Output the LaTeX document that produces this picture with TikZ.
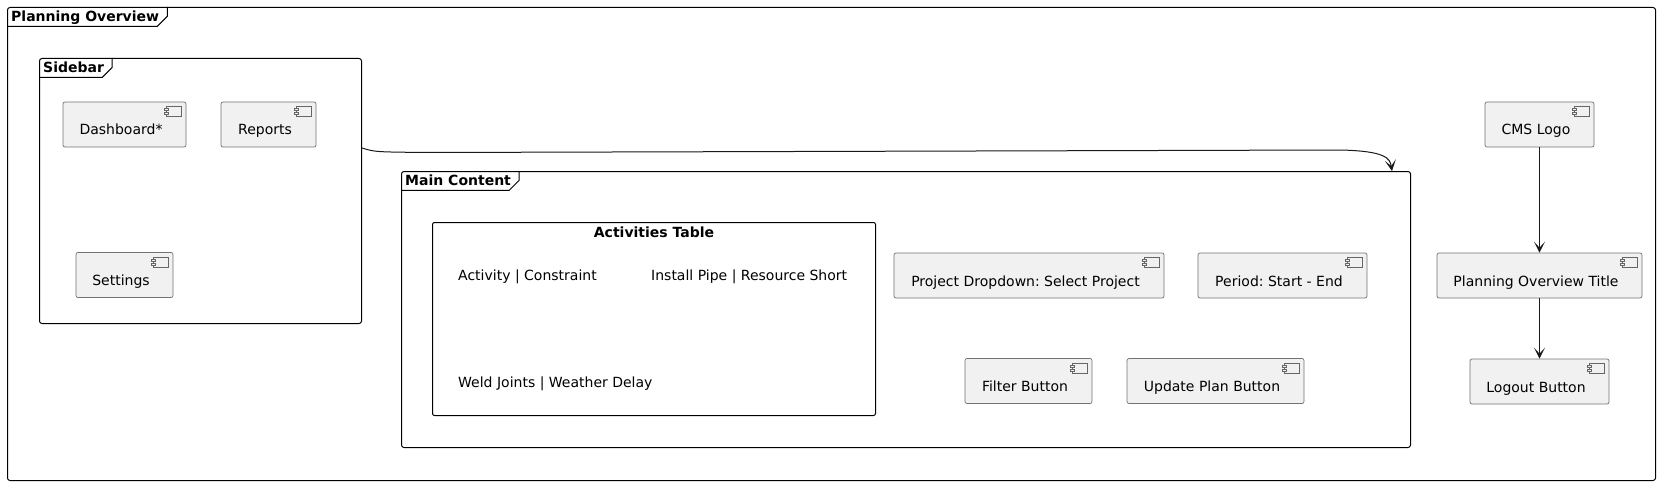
\documentclass[tikz,border=0pt]{standalone}
\usepackage{fontspec}
\setmainfont{DejaVu Sans}
\usetikzlibrary{arrows.meta}
\frenchspacing

\newcommand{\frameTab}[2]{%
  \node [TabLabel] (#1tab) at (#1.north west) {#2};
  \draw [line width=1pt] (#1tab.north east) -- ([yshift=10pt]#1tab.south east) -- ([xshift=-10pt]#1tab.south east) -- (#1tab.south west);
}

\begin{document}
\begin{tikzpicture}[x=1pt, y=-1pt, font=\fontsize{14}{17}\selectfont,
Frame/.style={draw, line width=1pt, rounded corners=2.5pt, inner sep=0pt, anchor=north west},
TabLabel/.style={font=\fontsize{14}{17}\selectfont\bfseries, anchor=north west, inner xsep=4pt, inner ysep=0pt, minimum height=19pt, text height=11pt, text depth=2pt, execute at end node={\hspace*{4pt}}},
Comp/.style={draw=black!55, fill=black!5.5, line width=0.7pt, rounded corners=2pt, minimum height=45pt, inner sep=0pt, text height=22pt, text depth=1pt, execute at end node={\hspace*{7pt}}},
CompIcon/.style={draw=black!60, fill=black!5.5, line width=0.6pt},
RowText/.style={anchor=base west, inner sep=0pt},
Flow/.style={draw=black!90, line width=1pt, -{Stealth[length=11pt, width=11pt, inset=6pt]}}]
\useasboundingbox (0,0) rectangle (1664,484);

% frames
\node [Frame, fill=white, minimum width=1648pt, minimum height=473pt] (overview) at (7,7) {};
\frameTab{overview}{Planning Overview}
\node [Frame, minimum width=322pt, minimum height=265pt] (sidebar) at (39,58) {};
\frameTab{sidebar}{Sidebar}
\node [Frame, minimum width=1009pt, minimum height=276pt] (maincontent) at (401,171) {};
\frameTab{maincontent}{Main Content}

% activities table
\node [Frame, rounded corners=2pt, minimum width=443pt, minimum height=193pt] (acttable) at (432,222) {};
\node [anchor=base, inner sep=0pt, font=\fontsize{14}{17}\selectfont\bfseries] (acttitle) at ([yshift=-15pt]acttable.north) {Activities Table};
\node [RowText] (actheader) at (458,280) {Activity | Constraint};
\node [RowText] (actpipe) at (651,280) {Install Pipe | Resource Short};
\node [RowText] (actweld) at (458,387) {Weld Joints | Weather Delay};

% components
\foreach \name/\cx/\cy/\boxw/\txt in {
  dashboard/124.5/124.5/123/Dashboard*,
  reports/268.5/124.5/95/Reports,
  settings/124.5/275/97/Settings,
  project/1029/275.5/270/Project Dropdown: Select Project,
  period/1282.5/275.5/169/Period: Start - End,
  filter/1028.5/381/127/Filter Button,
  update/1215.5/381/177/Update Plan Button,
  logo/1539.5/124.5/109/CMS Logo,
  title/1539.5/275.5/205/Planning Overview Title,
  logout/1539.5/381.5/139/Logout Button} {
  \node [Comp, minimum width=\boxw pt] (\name) at (\cx, \cy) {\txt};
  \draw [CompIcon] ([xshift=-20pt, yshift=-5pt]\name.north east) rectangle ([xshift=-5pt, yshift=-15pt]\name.north east);
  \draw [CompIcon] ([xshift=-22pt, yshift=-7pt]\name.north east) rectangle ([xshift=-18pt, yshift=-9pt]\name.north east);
  \draw [CompIcon] ([xshift=-22pt, yshift=-11pt]\name.north east) rectangle ([xshift=-18pt, yshift=-13pt]\name.north east);
}

% connectors
\coordinate (sbout) at ([yshift=-90pt]sidebar.north east);
\coordinate (mcin) at ([xshift=-19pt]maincontent.north east);
\draw [Flow] (sbout) .. controls (375,152) .. (430,152.5) -- (1340,150) .. controls (1385,151) and (1390,158) .. (mcin);
\draw [Flow] (logo) -- (title);
\draw [Flow] (title) -- (logout);
\end{tikzpicture}
\end{document}
